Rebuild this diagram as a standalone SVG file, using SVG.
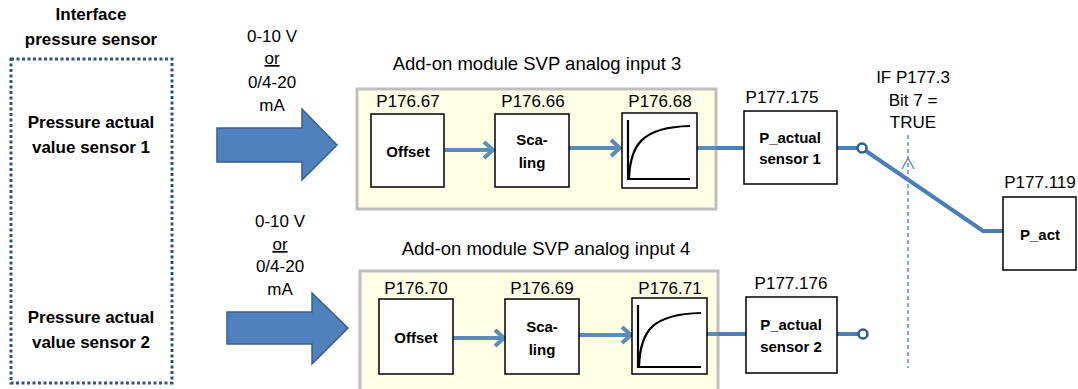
<svg xmlns="http://www.w3.org/2000/svg" width="1078" height="389" viewBox="0 0 1078 389">
<style>
text{font-family:"Liberation Sans",Arial,sans-serif;fill:#000}
.r{font-size:17px}
.t{font-size:18.5px}
.b{font-size:17px;font-weight:bold}
.bi{font-size:15px;font-weight:bold}
.box{fill:#fff;stroke:#000;stroke-width:1.5}
.mod{fill:#ffffe5;stroke:#bfbfbf;stroke-width:3}
.inc{stroke:#5b8db8;stroke-width:4;fill:none}
.out{stroke:#4a7ebb;stroke-width:4;fill:none}
.blk{fill:#4f81bd;stroke:#385d8a;stroke-width:1.5}
.curve{fill:none;stroke:#000;stroke-width:2.2}
.pin{fill:#fff;stroke:#2f5f8f;stroke-width:2.5}
</style>
<rect width="1078" height="389" fill="#fff"/>

<g id="interface">
<text class="b" x="91" y="20" text-anchor="middle">Interface</text>
<text class="b" x="91" y="45" text-anchor="middle">pressure sensor</text>
<rect x="11" y="59" width="161" height="324" fill="none" stroke="#2b5487" stroke-width="3" stroke-dasharray="3 2.5"/>
</g>
<g id="sensor1">
<text class="b" x="91" y="128" text-anchor="middle">Pressure actual</text>
<text class="b" x="91" y="153" text-anchor="middle">value sensor 1</text>
</g>
<g id="sensor2">
<text class="b" x="91" y="323" text-anchor="middle">Pressure actual</text>
<text class="b" x="91" y="348" text-anchor="middle">value sensor 2</text>
</g>

<g id="signal1">
<text class="r" x="272" y="42" text-anchor="middle">0-10 V</text>
<text class="r" x="272" y="64" text-anchor="middle" text-decoration="underline">or</text>
<text class="r" x="272" y="88" text-anchor="middle">0/4-20</text>
<text class="r" x="272" y="111" text-anchor="middle">mA</text>
<path class="blk" d="M217,128 H302 V109 L337,145 L302,180 V162 H217 Z"/>
</g>
<g id="signal2">
<text class="r" x="280" y="227" text-anchor="middle">0-10 V</text>
<text class="r" x="280" y="250" text-anchor="middle" text-decoration="underline">or</text>
<text class="r" x="280" y="272" text-anchor="middle">0/4-20</text>
<text class="r" x="280" y="295" text-anchor="middle">mA</text>
<path class="blk" d="M227,312 H312 V293 L348,328 L312,364 V344 H227 Z"/>
</g>

<g id="module3">
<text class="t" x="537" y="70" text-anchor="middle">Add-on module SVP analog input 3</text>
<rect class="mod" x="357" y="89" width="359" height="120"/>
</g>
<g id="module4">
<text class="t" x="546" y="255" text-anchor="middle">Add-on module SVP analog input 4</text>
<rect class="mod" x="360" y="271" width="358" height="125"/>
</g>

<g id="connectors">
<path class="inc" d="M444,150 H492"/>
<path class="inc" d="M484,142 L493,150 L484,158"/>
<path class="inc" d="M569,148 H619"/>
<path class="inc" d="M611,140 L620,148 L611,156"/>
<path class="inc" d="M697,148 H716"/>
<path class="out" d="M716,148 H744"/>
<path class="out" d="M837,148 H858"/>
<path class="out" d="M866,151 L983,231 H1003"/>
<path class="inc" d="M453,338 H503"/>
<path class="inc" d="M495,330 L504,338 L495,346"/>
<path class="inc" d="M579,335 H630"/>
<path class="inc" d="M622,327 L631,335 L622,343"/>
<path class="inc" d="M707,334 H718"/>
<path class="out" d="M718,334 H746"/>
<path class="out" d="M837,334 H859"/>
<path d="M908,135 V368" stroke="#5b8fd0" stroke-width="1.5" stroke-dasharray="4 3" fill="none"/>
<path d="M902,169 L908,158 L914,169" stroke="#5b8fd0" stroke-width="1.5" fill="none"/>
</g>

<g id="offset3">
<text class="r" x="408" y="107" text-anchor="middle">P176.67</text>
<rect class="box" x="371" y="114" width="73" height="73"/>
<text class="bi" x="408" y="157" text-anchor="middle">Offset</text>
</g>
<g id="scaling3">
<text class="r" x="533" y="107" text-anchor="middle">P176.66</text>
<rect class="box" x="495" y="114" width="74" height="73"/>
<text class="bi" x="532" y="145" text-anchor="middle">Sca-</text>
<text class="bi" x="532" y="168" text-anchor="middle">ling</text>
</g>
<g id="filter3">
<text class="r" x="660" y="107" text-anchor="middle">P176.68</text>
<rect class="box" x="622" y="113" width="75" height="75"/>
<path class="curve" d="M628,120 V179 H690 M629,179 C630,145 642,127 690,126"/>
</g>
<g id="pactual1">
<text class="r" x="782" y="103" text-anchor="middle">P177.175</text>
<rect class="box" x="744" y="111" width="93" height="73"/>
<text class="bi" x="790" y="143" text-anchor="middle">P_actual</text>
<text class="bi" x="790" y="164" text-anchor="middle">sensor 1</text>
<circle class="pin" cx="862" cy="148" r="4.5"/>
</g>

<g id="offset4">
<text class="r" x="416" y="294" text-anchor="middle">P176.70</text>
<rect class="box" x="379" y="299" width="74" height="75"/>
<text class="bi" x="416" y="343" text-anchor="middle">Offset</text>
</g>
<g id="scaling4">
<text class="r" x="542" y="294" text-anchor="middle">P176.69</text>
<rect class="box" x="505" y="299" width="74" height="75"/>
<text class="bi" x="542" y="332" text-anchor="middle">Sca-</text>
<text class="bi" x="542" y="355" text-anchor="middle">ling</text>
</g>
<g id="filter4">
<text class="r" x="670" y="294" text-anchor="middle">P176.71</text>
<rect class="box" x="632" y="298" width="75" height="76"/>
<path class="curve" d="M638,305 V367 H701 M639,367 C640,331 652,314 701,313"/>
</g>
<g id="pactual2">
<text class="r" x="791" y="289" text-anchor="middle">P177.176</text>
<rect class="box" x="746" y="297" width="91" height="76"/>
<text class="bi" x="791" y="330" text-anchor="middle">P_actual</text>
<text class="bi" x="791" y="352" text-anchor="middle">sensor 2</text>
<circle class="pin" cx="863" cy="334" r="4.5"/>
</g>

<g id="condition">
<text class="r" x="913" y="83" text-anchor="middle">IF P177.3</text>
<text class="r" x="913" y="106" text-anchor="middle">Bit 7 =</text>
<text class="r" x="913" y="128" text-anchor="middle">TRUE</text>
</g>

<g id="pact">
<text class="r" x="1040" y="188" text-anchor="middle">P177.119</text>
<rect class="box" x="1003" y="197" width="73" height="73"/>
<text class="bi" x="1040" y="240" text-anchor="middle">P_act</text>
</g>
</svg>
